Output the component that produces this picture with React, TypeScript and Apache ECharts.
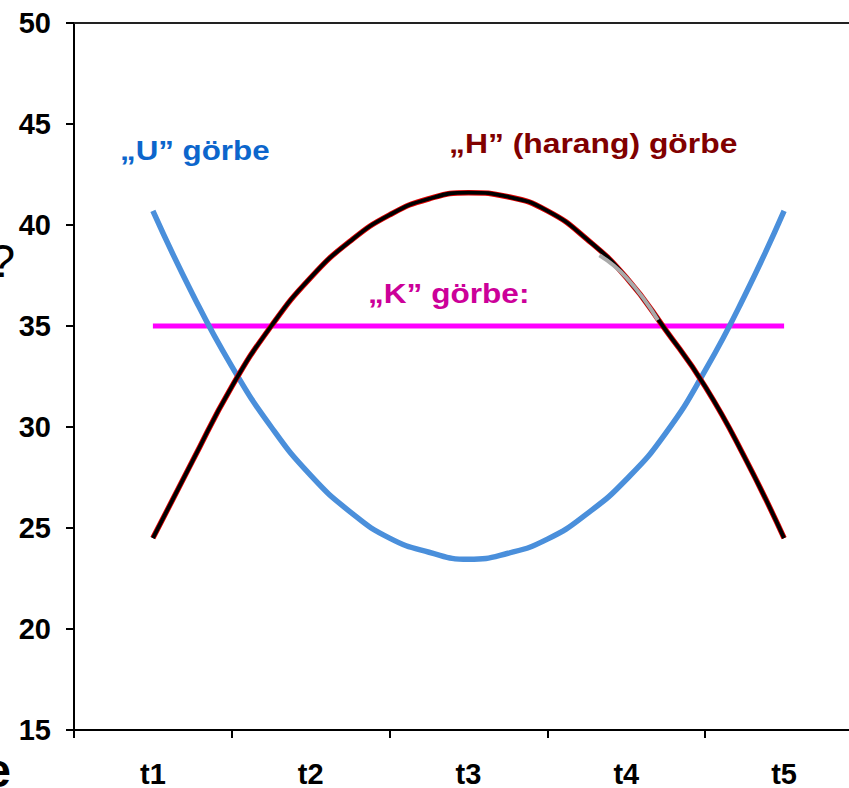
import React, { useEffect, useRef } from "react";
import * as echarts from "echarts";

const categories = ["t1", "t2", "t3", "t4", "t5"];
const xPositions = [1, 1.25, 1.5, 1.75, 2, 2.25, 2.5, 2.75, 3, 3.25, 3.5, 3.75, 4, 4.25, 4.5, 4.75, 5];
const uValues = [40.7, 36.6, 33.0, 30.0, 27.6, 25.8, 24.5, 23.8, 23.45, 23.75, 24.45, 25.7, 27.4, 29.7, 32.8, 36.5, 40.7];
const hValues = [24.5, 28.3, 32.0, 35.0, 37.4, 39.2, 40.5, 41.3, 41.6, 41.4, 40.7, 39.3, 37.4, 34.8, 32.0, 28.5, 24.5];
const hGrayX = [3.83, 4.0, 4.2];
const hGrayValues = [38.5, 37.4, 35.3];
const kX = [1, 5];
const kValues = [35, 35];

const FONT = "'Liberation Sans', Arial, sans-serif";

export default function App() {
  const ref = useRef<HTMLDivElement>(null);
  useEffect(() => {
    if (!ref.current) return;
    const chart = echarts.init(ref.current, undefined, { renderer: "svg" });
    const pair = (xs: number[], ys: number[]) => xs.map((x, i) => [x, ys[i]]);
    chart.setOption({
      animation: false,
      backgroundColor: "#ffffff",
      grid: { left: 74, top: 23, width: 789, height: 707 },
      xAxis: [
        {
          type: "category",
          data: categories,
          position: "bottom",
          boundaryGap: true,
          axisLine: { show: true, lineStyle: { color: "#000", width: 2 } },
          axisTick: { show: true, interval: 0, length: 8, lineStyle: { color: "#000", width: 2 } },
          axisLabel: {
            interval: 0,
            margin: 29,
            color: "#000",
            fontSize: 29,
            fontWeight: "bold",
            fontFamily: FONT,
          },
          splitLine: { show: false },
        },
        {
          type: "value",
          position: "top",
          min: 0.5,
          max: 5.5,
          axisLine: { show: true, onZero: false, lineStyle: { color: "#222", width: 2 } },
          axisTick: { show: false },
          axisLabel: { show: false },
          splitLine: { show: false },
        },
      ],
      yAxis: {
        type: "value",
        min: 15,
        max: 50,
        interval: 5,
        axisLine: { show: true, lineStyle: { color: "#000", width: 2 } },
        axisTick: { show: true, length: 8, lineStyle: { color: "#000", width: 2 } },
        axisLabel: {
          margin: 23,
          color: "#000",
          fontSize: 29,
          fontWeight: "bold",
          fontFamily: FONT,
        },
        splitLine: { show: false },
      },
      series: [
        {
          name: "K",
          type: "line",
          xAxisIndex: 1,
          data: pair(kX, kValues),
          showSymbol: false,
          lineStyle: { color: "#ff00ff", width: 5 },
          z: 2,
        },
        {
          name: "U",
          type: "line",
          xAxisIndex: 1,
          data: pair(xPositions, uValues),
          smooth: 0.5,
          showSymbol: false,
          lineStyle: { color: "#4a8fdb", width: 5.5 },
          z: 3,
        },
        {
          name: "H-outline",
          type: "line",
          xAxisIndex: 1,
          data: pair(xPositions, hValues),
          smooth: 0.5,
          showSymbol: false,
          lineStyle: { color: "#e00000", width: 5.5 },
          z: 4,
        },
        {
          name: "H",
          type: "line",
          xAxisIndex: 1,
          data: pair(xPositions, hValues),
          smooth: 0.5,
          showSymbol: false,
          lineStyle: { color: "#000000", width: 3.8 },
          z: 5,
        },
        {
          name: "H-gray",
          type: "line",
          xAxisIndex: 1,
          data: pair(hGrayX, hGrayValues),
          smooth: 0.5,
          showSymbol: false,
          lineStyle: { color: "#aaaaaa", width: 4 },
          z: 6,
        },
      ],
      graphic: [
        {
          type: "text",
          x: 120,
          y: 151,
          scaleX: 1.16,
          style: {
            text: "„U” görbe",
            fill: "#0c66cc",
            font: `bold 27px ${FONT}`,
            textAlign: "left",
            textVerticalAlign: "middle",
          },
        },
        {
          type: "text",
          x: 449,
          y: 143,
          scaleX: 1.18,
          style: {
            text: "„H” (harang) görbe",
            fill: "#800000",
            font: `bold 27px ${FONT}`,
            textAlign: "left",
            textVerticalAlign: "middle",
          },
        },
        {
          type: "text",
          x: 368,
          y: 293,
          scaleX: 1.17,
          style: {
            text: "„K” görbe:",
            fill: "#cc0099",
            font: `bold 27px ${FONT}`,
            textAlign: "left",
            textVerticalAlign: "middle",
          },
        },
        {
          type: "text",
          x: 15,
          y: 261,
          style: {
            text: "?",
            fill: "#000",
            font: `46px ${FONT}`,
            textAlign: "right",
            textVerticalAlign: "middle",
          },
        },
        {
          type: "text",
          x: 11,
          y: 770,
          style: {
            text: "e",
            fill: "#000",
            font: `bold 48px ${FONT}`,
            textAlign: "right",
            textVerticalAlign: "middle",
          },
        },
      ],
    });
    return () => chart.dispose();
  }, []);
  return (
    <div style={{ position: "fixed", left: 0, top: 0, width: 849, height: 788, overflow: "hidden", background: "#fff" }}>
      <div ref={ref} style={{ width: 880, height: 788 }} />
    </div>
  );
}
